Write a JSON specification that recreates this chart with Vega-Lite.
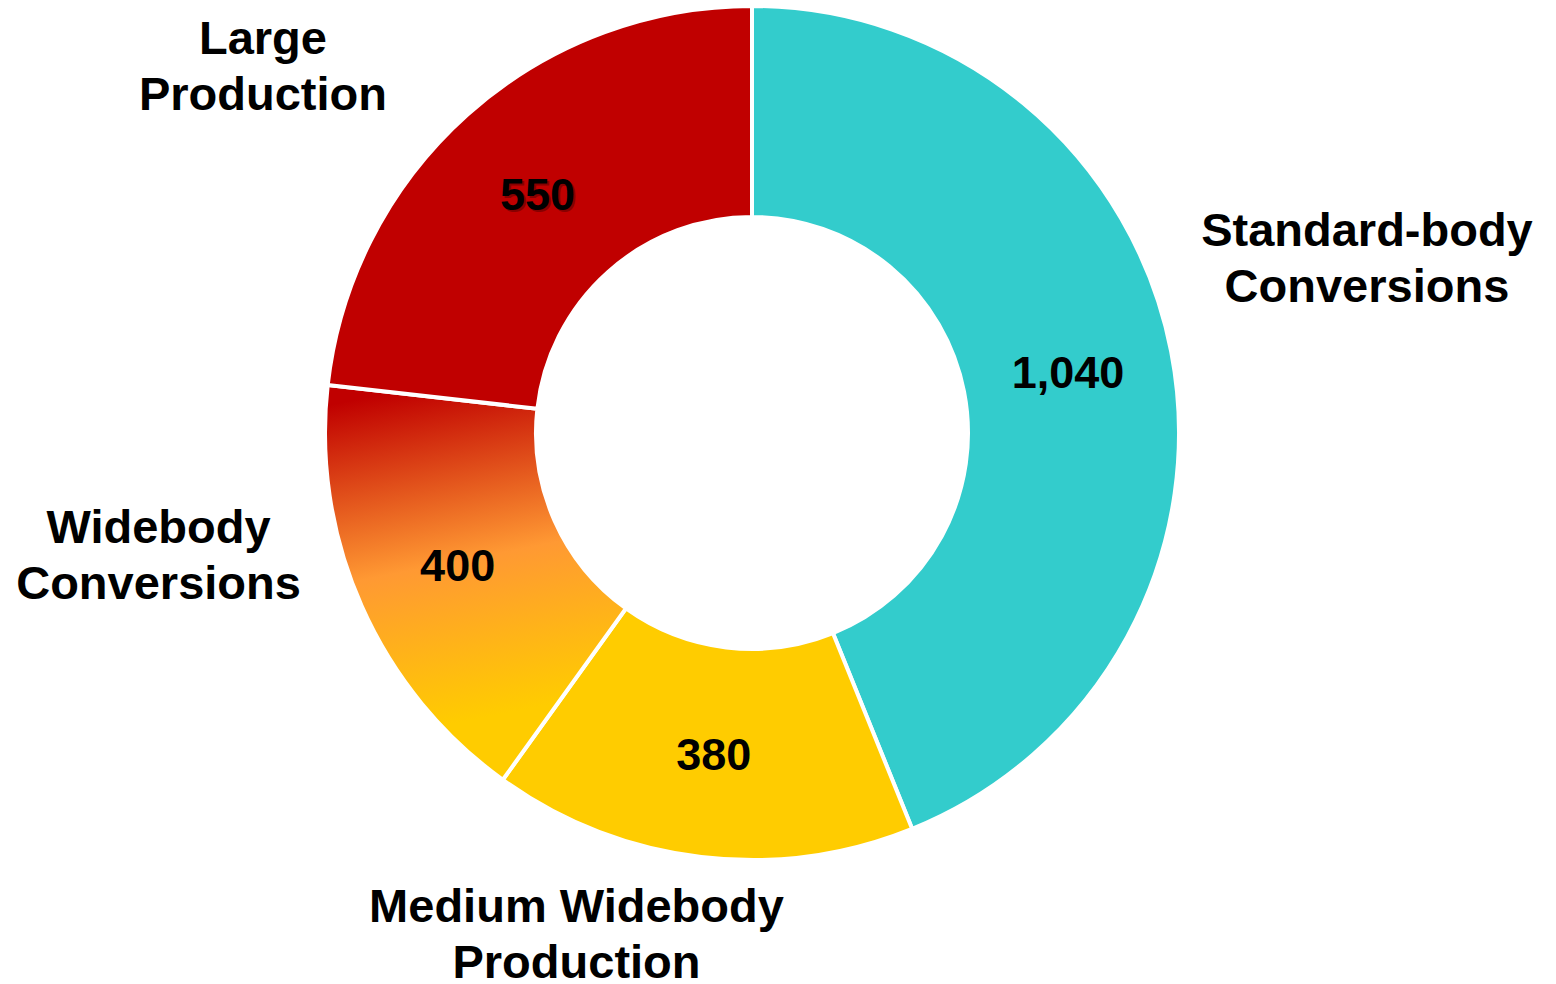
{
  "$schema": "https://vega.github.io/schema/vega-lite/v6.json",
  "width": 1504,
  "height": 866,
  "autosize": {"type": "none"},
  "padding": {"left": 0, "top": 0, "right": 52, "bottom": 118},
  "background": "white",
  "config": {"view": {"stroke": null}},
  "data": {
    "values": [
      {"cat": "Standard-body\nConversions", "value": 1040, "ord": 1},
      {"cat": "Medium Widebody\nProduction", "value": 380, "ord": 2},
      {"cat": "Widebody\nConversions", "value": 400, "ord": 3},
      {"cat": "Large\nProduction", "value": 550, "ord": 4}
    ]
  },
  "encoding": {
    "theta": {"field": "value", "type": "quantitative", "stack": true},
    "order": {"field": "ord", "type": "quantitative"}
  },
  "layer": [
    {
      "mark": {"type": "arc", "outerRadius": 427, "innerRadius": 216, "stroke": "white", "strokeWidth": 4},
      "encoding": {
        "color": {
          "field": "cat",
          "type": "nominal",
          "scale": {
            "domain": ["Standard-body\nConversions", "Medium Widebody\nProduction", "Widebody\nConversions", "Large\nProduction"],
            "range": ["#33CCCC", "#FFCC00", "#FF9933", "#C00000"]
          },
          "legend": null,
          "condition": {
            "test": "datum.ord === 3",
            "value": {
              "gradient": "linear",
              "x1": 0.35, "y1": 0, "x2": 0.5, "y2": 1,
              "stops": [
                {"offset": 0, "color": "#C00000"},
                {"offset": 0.45, "color": "#FF9933"},
                {"offset": 0.85, "color": "#FFCC00"},
                {"offset": 1, "color": "#FFCC00"}
              ]
            }
          }
        }
      }
    },
    {
      "mark": {"type": "text", "radius": 322, "dx": 2, "dy": 5, "font": "Liberation Sans", "fontWeight": "bold", "fontSize": 45, "color": "#5a0000", "opacity": 0.55, "align": "center", "baseline": "middle"},
      "encoding": {
        "text": {"condition": {"test": "datum.ord === 4", "field": "value", "type": "quantitative", "format": ","}, "value": ""}
      }
    },
    {
      "mark": {"type": "text", "radius": 322, "dy": 3, "font": "Liberation Sans", "fontWeight": "bold", "fontSize": 45, "color": "black", "align": "center", "baseline": "middle"},
      "encoding": {
        "text": {"field": "value", "type": "quantitative", "format": ","}
      }
    },
    {
      "mark": {"type": "text", "radius": 600, "dx": 26, "dy": -86, "font": "Liberation Sans", "fontWeight": "bold", "fontSize": 47, "lineHeight": 56, "lineBreak": "\n", "color": "black", "align": "center", "baseline": "middle"},
      "encoding": {"text": {"condition": {"test": "datum.ord === 1", "field": "cat"}, "value": ""}}
    },
    {
      "mark": {"type": "text", "radius": 500, "dx": -116, "dy": -21, "font": "Liberation Sans", "fontWeight": "bold", "fontSize": 47, "lineHeight": 56, "lineBreak": "\n", "color": "black", "align": "center", "baseline": "middle"},
      "encoding": {"text": {"condition": {"test": "datum.ord === 2", "field": "cat"}, "value": ""}}
    },
    {
      "mark": {"type": "text", "radius": 600, "dx": -45, "dy": -147, "font": "Liberation Sans", "fontWeight": "bold", "fontSize": 47, "lineHeight": 56, "lineBreak": "\n", "color": "black", "align": "center", "baseline": "middle"},
      "encoding": {"text": {"condition": {"test": "datum.ord === 3", "field": "cat"}, "value": ""}}
    },
    {
      "mark": {"type": "text", "radius": 560, "dx": -116, "dy": 25, "font": "Liberation Sans", "fontWeight": "bold", "fontSize": 47, "lineHeight": 56, "lineBreak": "\n", "color": "black", "align": "center", "baseline": "middle"},
      "encoding": {"text": {"condition": {"test": "datum.ord === 4", "field": "cat"}, "value": ""}}
    }
  ]
}
